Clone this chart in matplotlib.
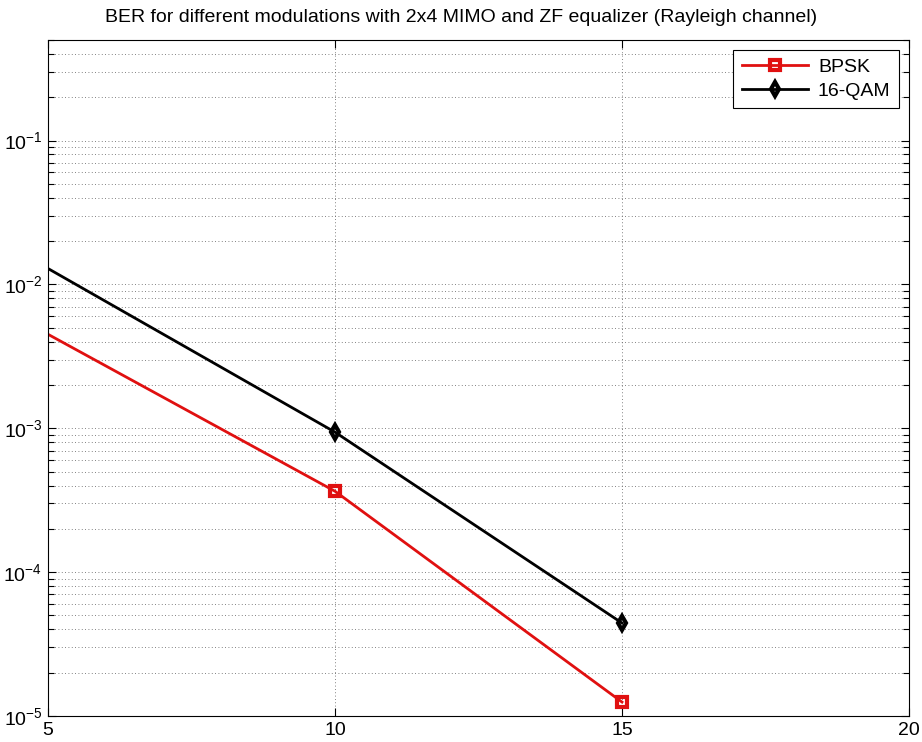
import numpy as np
import matplotlib
matplotlib.use("Agg")
from matplotlib import pyplot as plt
from matplotlib.ticker import LogLocator, FixedLocator, NullFormatter

# data (first point lies left of the visible range)
snr_db = [0, 10, 15]
ber_bpsk = [0.0555, 3.65e-4, 1.25e-5]
ber_16qam = [0.177, 9.4e-4, 4.43e-5]

x_ticks = [5, 10, 15, 20]
title = "BER for different modulations with 2x4 MIMO and ZF equalizer (Rayleigh channel)"

plt.rcParams['font.family'] = ['Liberation Sans', 'DejaVu Sans']
plt.rcParams['mathtext.fontset'] = 'custom'
plt.rcParams['mathtext.rm'] = 'Liberation Sans'
plt.rcParams['mathtext.it'] = 'Liberation Sans'
plt.rcParams['mathtext.default'] = 'regular'

fig = plt.figure(figsize=(9.22, 7.42), dpi=100)
ax = fig.add_axes([48 / 922, 1 - 716 / 742, (909 - 48) / 922, (716 - 40) / 742])

ax.semilogy(snr_db, ber_bpsk, color='#e01010', lw=2, marker='s', ms=7,
            mfc='none', mec='#e01010', mew=3, label='BPSK')
ax.semilogy(snr_db, ber_16qam, color='black', lw=2, marker='d', ms=7,
            mfc='none', mec='black', mew=3, label='16-QAM')

ax.set_xlim(5, 20)
ax.set_ylim(1e-5, 0.5)
ax.xaxis.set_major_locator(FixedLocator(x_ticks))
ax.yaxis.set_major_locator(LogLocator(base=10, numticks=10))
ax.yaxis.set_minor_locator(LogLocator(base=10, subs=np.arange(2, 10), numticks=20))
ax.yaxis.set_minor_formatter(NullFormatter())

grid_kw = dict(color='0.35', linestyle=(0, (1, 3)), linewidth=0.6)
ax.grid(True, which='major', axis='both', **grid_kw)
ax.grid(True, which='minor', axis='y', **grid_kw)

ax.tick_params(which='both', direction='in', top=True, right=True,
               labelsize=14, pad=4)
ax.tick_params(which='major', length=6, width=0.8)
ax.tick_params(which='minor', length=4, width=0.8)
for s in ax.spines.values():
    s.set_linewidth(0.8)

fig.text(0.5, 1 - 18 / 742, title, ha='center', va='center', fontsize=14)

leg = ax.legend(loc='upper right', fontsize=14, frameon=True, fancybox=False,
                edgecolor='black', framealpha=1, handlelength=3.4,
                borderpad=0.45, labelspacing=0.3, handletextpad=0.5,
                borderaxespad=0.5)
leg.get_frame().set_linewidth(0.8)

fig.savefig('out.png', dpi=100)
